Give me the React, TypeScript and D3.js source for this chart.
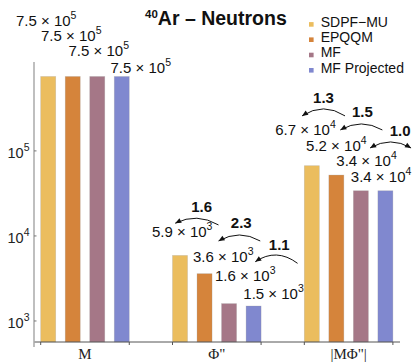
import React from "react";
import * as d3 from "d3";

const groups = ["M", "Φ\"", "|MΦ\"|"];
const series = ["SDPF−MU", "EPQQM", "MF", "MF Projected"];
const colors = ["#EBBD5E", "#D5843B", "#A57787", "#8088CF"];

const valuesM = [7.5e5, 7.5e5, 7.5e5, 7.5e5];
const valuesPhi = [5.9e3, 3.6e3, 1.6e3, 1.5e3];
const valuesMPhi = [6.7e4, 5.2e4, 3.4e4, 3.4e4];

// ratio between neighbouring labels (drawn on the arrows)
const ratiosPhi = [1.6, 2.3, 1.1];
const ratiosMPhi = [1.3, 1.5, 1.0];

const yTicks = [1e3, 1e4, 1e5];

const width = 415;
const height = 362;
const axisX = 34;
const bottom = 342;
const top = 62;

// where each value label sits, relative to bar centre / bar top
const labelOffsets = [
  [[-2, -50.6], [-1.5, -35], [1.5, -20], [19, -3.3]],
  [[2.2, -18.8], [18.7, -12], [16.2, -22.6], [20, -7]],
  [[-6.3, -30.8], [0, -24.4], [5.7, -24.8], [-4.3, -8.8]],
];

// arrows, relative to the anchor of label i
const arrowLayout = [
  [],
  [
    { head: [-7, -13.4], tail: [36.3, -11.7], peak: -18.4, text: [19.5, -25] },
    { head: [-4.7, -20.7], tail: [37, -20.7], peak: -26.7, text: [18, -33.4] },
    { head: [10, -19.3], tail: [52.3, -17.7], peak: -26, text: [34, -31] },
  ],
  [
    { head: [-3.5, -19], tail: [39.5, -19], peak: -26, text: [18, -32.3] },
    { head: [4, -20.7], tail: [46, -20.7], peak: -26.7, text: [26, -33.7] },
    { head: [3.5, -18], tail: [44.5, -18], peak: -24, text: [33.5, -30], both: true },
  ],
];

const sans = "'Liberation Sans', Arial, sans-serif";
const serif = "'Liberation Serif', 'Times New Roman', serif";

function splitSci(v: number) {
  const e = Math.floor(Math.log10(v));
  const m = (v / Math.pow(10, e)).toFixed(1);
  return { m, e };
}

function arrowHead(x: number, y: number, cx: number, cy: number) {
  const a = Math.atan2(y - cy, x - cx);
  const len = 6;
  const w = 2.6;
  const bx = x - len * Math.cos(a);
  const by = y - len * Math.sin(a);
  const px = -Math.sin(a) * w;
  const py = Math.cos(a) * w;
  return `M${x},${y}L${bx + px},${by + py}L${bx - px},${by - py}Z`;
}

export default function App() {
  const data = [valuesM, valuesPhi, valuesMPhi];
  const ratios = [[], ratiosPhi, ratiosMPhi];

  const y = d3.scaleLog().domain([566, 1.11e6]).range([bottom, top]);

  const x0 = d3
    .scaleBand()
    .domain(groups)
    .range([40.7, 392.9])
    .paddingInner(0.328)
    .paddingOuter(0);

  const x1 = d3
    .scaleBand()
    .domain(series)
    .range([0, x0.bandwidth()])
    .paddingInner(0.388)
    .paddingOuter(0);

  const anchors = data.map((vals, gi) =>
    vals.map((v, si) => {
      const cx = x0(groups[gi])! + x1(series[si])! + x1.bandwidth() / 2;
      const [dx, dy] = labelOffsets[gi][si];
      return [cx + dx, y(v) + dy];
    })
  );

  return (
    <svg
      width={width}
      height={height}
      style={{ position: "absolute", left: 0, top: 0, background: "#fff" }}
    >
      {/* bars */}
      {data.map((vals, gi) => (
        <g key={gi} transform={`translate(${x0(groups[gi])},0)`}>
          {vals.map((v, si) => (
            <rect
              key={si}
              x={x1(series[si])}
              y={y(v)}
              width={x1.bandwidth()}
              height={bottom - y(v)}
              fill={colors[si]}
              stroke="#999"
              strokeOpacity={0.35}
              strokeWidth={0.7}
            />
          ))}
        </g>
      ))}

      {/* axes */}
      <line x1={axisX} x2={400} y1={bottom} y2={bottom} stroke="#555" strokeWidth={1} />
      <line x1={axisX} x2={axisX} y1={top} y2={bottom + 5} stroke="#aaa" strokeWidth={1.5} />
      {groups.map((g) => (
        <g key={g}>
          <line x1={x0(g)} x2={x0(g)} y1={bottom} y2={bottom + 3} stroke="#555" />
          <line
            x1={x0(g)! + x0.bandwidth()}
            x2={x0(g)! + x0.bandwidth()}
            y1={bottom}
            y2={bottom + 3}
            stroke="#555"
          />
          <text
            x={x0(g)! + x0.bandwidth() / 2}
            y={358.5}
            textAnchor="middle"
            fontFamily={serif}
            fontSize={15}
            fill="#222"
          >
            {g}
          </text>
        </g>
      ))}
      {yTicks.map((t) => (
        <g key={t}>
          <line x1={axisX} x2={axisX + 2.5} y1={y(t)} y2={y(t)} stroke="#777" />
          <text
            x={29.5}
            y={y(t) + 7.3}
            textAnchor="end"
            fontFamily={sans}
            fontSize={14.5}
            fill="#222"
          >
            10
            <tspan fontSize={10.5} dy={-7}>
              {Math.round(Math.log10(t))}
            </tspan>
          </text>
        </g>
      ))}

      {/* value labels */}
      {data.map((vals, gi) =>
        vals.map((v, si) => {
          const { m, e } = splitSci(v);
          const [ax, ay] = anchors[gi][si];
          return (
            <text
              key={`${gi}-${si}`}
              x={ax}
              y={ay}
              textAnchor="middle"
              fontFamily={sans}
              fontSize={15}
              fill="#111"
            >
              {`${m} × 10`}
              <tspan fontSize={10.5} dy={-7}>
                {e}
              </tspan>
            </text>
          );
        })
      )}

      {/* ratio arrows */}
      {arrowLayout.map((arrows, gi) =>
        arrows.map((a, i) => {
          const [ax, ay] = anchors[gi][i];
          const hx = ax + a.head[0];
          const hy = ay + a.head[1];
          const tx = ax + a.tail[0];
          const ty = ay + a.tail[1];
          const cx = (hx + tx) / 2;
          const cy = 2 * (ay + a.peak) - (hy + ty) / 2;
          const p = d3.path();
          p.moveTo(tx, ty);
          p.quadraticCurveTo(cx, cy, hx, hy);
          return (
            <g key={`a${gi}-${i}`}>
              <path d={p.toString()} fill="none" stroke="#111" strokeWidth={1} />
              <path d={arrowHead(hx, hy, cx, cy)} fill="#111" />
              {a.both && <path d={arrowHead(tx, ty, cx, cy)} fill="#111" />}
              <text
                x={ax + a.text[0]}
                y={ay + a.text[1]}
                textAnchor="middle"
                fontFamily={sans}
                fontWeight="bold"
                fontSize={15}
                fill="#111"
              >
                {ratios[gi][i].toFixed(1)}
              </text>
            </g>
          );
        })
      )}

      {/* title */}
      <text x={145} y={25} fontFamily={sans} fontWeight="bold" fontSize={19.5} fill="#111">
        <tspan fontSize={11.5} dy={-7.5}>
          40
        </tspan>
        <tspan dy={7.5}>Ar – Neutrons</tspan>
      </text>

      {/* legend */}
      {series.map((s, i) => (
        <g key={s} transform={`translate(309,${26.7 + i * 15.3})`}>
          <rect x={0} y={-4.6} width={4.6} height={4.6} fill={colors[i]} />
          <text x={11.7} y={0} fontFamily={sans} fontSize={14} fill="#111">
            {s}
          </text>
        </g>
      ))}
    </svg>
  );
}
